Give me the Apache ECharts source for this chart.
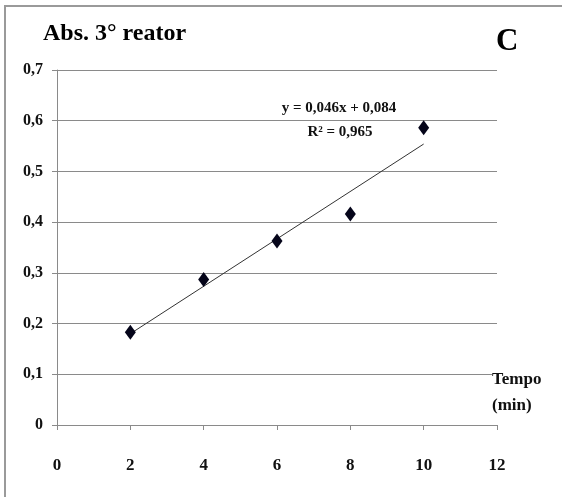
<!DOCTYPE html>
<html>
<head>
<meta charset="utf-8">
<script src="https://cdn.jsdelivr.net/npm/echarts@6/dist/echarts.min.js"></script>
<style>
html,body{margin:0;padding:0;background:#fff;}
#chart{width:562px;height:497px;}
</style>
</head>
<body>
<div id="chart"></div>
<script>
// Data
var timeMin = [2, 4, 6, 8, 10];
var absorbance = [0.183, 0.287, 0.363, 0.416, 0.586];
var trendX = [2, 10];
var trendY = [0.180, 0.554];
var yTicks = ['0', '0,1', '0,2', '0,3', '0,4', '0,5', '0,6', '0,7'];
var xTicks = ['0', '2', '4', '6', '8', '10', '12'];
var titleText = 'Abs. 3\u00b0 reator';
var panelLetter = 'C';
var eqText = 'y = 0,046x + 0,084';
var r2Text = 'R\u00b2 = 0,965';

var serif = '"Liberation Serif", "Times New Roman", serif';
var chart = echarts.init(document.getElementById('chart'), null, {renderer: 'canvas'});

var pts = timeMin.map(function (x, i) { return [x, absorbance[i]]; });
var trend = trendX.map(function (x, i) { return [x, trendY[i]]; });

chart.setOption({
  animation: false,
  backgroundColor: '#fff',
  grid: {left: 57, right: 65, top: 70, bottom: 72, containLabel: false},
  xAxis: {
    type: 'value', min: 0, max: 12, interval: 2,
    axisLine: {show: true, lineStyle: {color: '#8a8a8a', width: 1}},
    axisTick: {show: true, length: 5, lineStyle: {color: '#8a8a8a'}},
    splitLine: {show: false},
    axisLabel: {
      margin: 32, color: '#111', fontFamily: serif, fontWeight: 'bold', fontSize: 17,
      formatter: function (v) { return xTicks[Math.round(v / 2)]; }
    }
  },
  yAxis: {
    type: 'value', min: 0, max: 0.7, interval: 0.1,
    axisLine: {show: true, lineStyle: {color: '#8a8a8a', width: 1}},
    axisTick: {show: true, length: 5, lineStyle: {color: '#8a8a8a'}},
    splitLine: {show: true, lineStyle: {color: '#8a8a8a', width: 1}},
    axisLabel: {
      margin: 14, color: '#111', fontFamily: serif, fontWeight: 'bold', fontSize: 16,
      formatter: function (v) { return yTicks[Math.round(v * 10)]; }
    }
  },
  series: [
    {
      type: 'line', data: trend, showSymbol: false, symbol: 'none',
      lineStyle: {color: '#333', width: 1}, z: 2, silent: true
    },
    {
      type: 'scatter', data: pts, symbol: 'diamond', symbolSize: [11, 15],
      itemStyle: {color: '#05051a', opacity: 1}, z: 3
    }
  ],
  graphic: [
    {type: 'rect', shape: {x: 5, y: 6, width: 700, height: 700}, style: {fill: 'none', stroke: '#9a9a9a', lineWidth: 2}, z: 0},
    {type: 'text', x: 43, y: 34, style: {text: titleText, font: 'bold 24px ' + serif, fill: '#000', textVerticalAlign: 'middle'}, z: 10},
    {type: 'text', x: 496, y: 42, style: {text: panelLetter, font: 'bold 31px ' + serif, fill: '#000', textVerticalAlign: 'middle'}, z: 10},
    {type: 'text', x: 339, y: 108, style: {text: eqText, font: 'bold 15px ' + serif, fill: '#111', textAlign: 'center', textVerticalAlign: 'middle'}, z: 10},
    {type: 'text', x: 340, y: 132, style: {text: r2Text, font: 'bold 15px ' + serif, fill: '#111', textAlign: 'center', textVerticalAlign: 'middle'}, z: 10},
    {type: 'text', x: 492, y: 380, style: {text: 'Tempo', font: 'bold 17px ' + serif, fill: '#111', textVerticalAlign: 'middle', backgroundColor: '#fff'}, z: 10},
    {type: 'text', x: 492, y: 406, style: {text: '(min)', font: 'bold 17px ' + serif, fill: '#111', textVerticalAlign: 'middle'}, z: 10}
  ]
});
</script>
</body>
</html>
